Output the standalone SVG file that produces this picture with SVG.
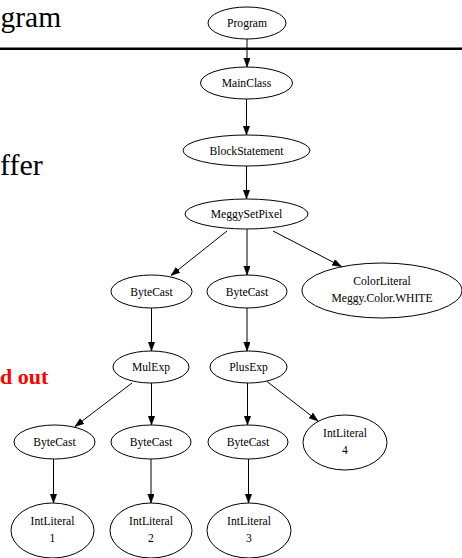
<svg xmlns="http://www.w3.org/2000/svg" width="462" height="558" viewBox="0 0 462 558">
<style>
.n ellipse{fill:none;stroke:#000;stroke-width:1}
.n text{font-family:"Liberation Serif",serif;font-size:11.6px;text-anchor:middle;fill:#000}
.e line{stroke:#000;stroke-width:1;marker-end:url(#ah)}
.slide{font-family:"Liberation Serif",serif;fill:#000}
</style>
<defs>
<marker id="ah" markerUnits="userSpaceOnUse" markerWidth="10" markerHeight="8" refX="9" refY="3.25" orient="auto">
<path d="M0,0 L9,3.25 L0,6.5 z" fill="#000" stroke="#000" stroke-width="0.5"/>
</marker>
</defs>
<rect width="462" height="558" fill="#fff"/>
<g id="slide">
<text class="slide" x="0.5" y="27" font-size="29.5">gram</text>
<line x1="0" y1="48.8" x2="462" y2="48.8" stroke="#000" stroke-width="2.4"/>
<text class="slide" x="0" y="175" font-size="30">ffer</text>
<text x="0" y="383.5" font-family="Liberation Serif,serif" font-size="22" font-weight="bold" fill="#ff0000">d out</text>
</g>
<g id="edges" class="e">
<line x1="247" y1="39" x2="247" y2="67"/>
<line x1="246.5" y1="99" x2="246.5" y2="135"/>
<line x1="246.5" y1="166" x2="246.5" y2="199"/>
<line x1="227" y1="231" x2="171" y2="275.5"/>
<line x1="247" y1="229" x2="247" y2="275"/>
<line x1="273" y1="231" x2="341.5" y2="266.5"/>
<line x1="151.5" y1="308" x2="151.5" y2="351"/>
<line x1="247" y1="308" x2="247" y2="351"/>
<line x1="132" y1="383" x2="75" y2="426.5"/>
<line x1="151.5" y1="383" x2="151.5" y2="425"/>
<line x1="247.5" y1="383" x2="247.5" y2="425"/>
<line x1="267" y1="381.5" x2="318" y2="421"/>
<line x1="53.5" y1="459" x2="53.5" y2="503"/>
<line x1="151" y1="459" x2="151" y2="503"/>
<line x1="248.5" y1="459" x2="248.5" y2="503"/>
</g>
<g id="program" class="n"><ellipse cx="247" cy="23" rx="39" ry="16"/><text x="247" y="27">Program</text></g>
<g id="mainclass" class="n"><ellipse cx="246.5" cy="83" rx="46" ry="16"/><text x="246.5" y="87">MainClass</text></g>
<g id="blockstatement" class="n"><ellipse cx="246.5" cy="150.5" rx="63.5" ry="15.5"/><text x="246.5" y="154.5">BlockStatement</text></g>
<g id="meggysetpixel" class="n"><ellipse cx="246.5" cy="214" rx="61.5" ry="15"/><text x="246.5" y="218">MeggySetPixel</text></g>
<g id="bytecast1" class="n"><ellipse cx="151.5" cy="291.5" rx="40.5" ry="16.5"/><text x="151.5" y="295.5">ByteCast</text></g>
<g id="bytecast2" class="n"><ellipse cx="247" cy="291.5" rx="40" ry="16.5"/><text x="247" y="295.5">ByteCast</text></g>
<g id="colorliteral" class="n"><ellipse cx="382" cy="290.5" rx="80" ry="27.5"/><text x="382" y="285">ColorLiteral</text><text x="382" y="301.5">Meggy.Color.WHITE</text></g>
<g id="mulexp" class="n"><ellipse cx="151" cy="367" rx="38" ry="16"/><text x="151" y="371">MulExp</text></g>
<g id="plusexp" class="n"><ellipse cx="248.5" cy="367" rx="38.5" ry="16"/><text x="248.5" y="371">PlusExp</text></g>
<g id="bytecast3" class="n"><ellipse cx="54.5" cy="442" rx="40.5" ry="17"/><text x="54.5" y="446">ByteCast</text></g>
<g id="bytecast4" class="n"><ellipse cx="151" cy="442" rx="40" ry="17"/><text x="151" y="446">ByteCast</text></g>
<g id="bytecast5" class="n"><ellipse cx="248" cy="442" rx="40" ry="17"/><text x="248" y="446">ByteCast</text></g>
<g id="intliteral4" class="n"><ellipse cx="345" cy="442.5" rx="42" ry="27.5"/><text x="345" y="436.5">IntLiteral</text><text x="345" y="453.5">4</text></g>
<g id="intliteral1" class="n"><ellipse cx="52.5" cy="530.5" rx="41.5" ry="27.5"/><text x="52.5" y="525">IntLiteral</text><text x="52.5" y="541.5">1</text></g>
<g id="intliteral2" class="n"><ellipse cx="151" cy="530.5" rx="41" ry="27.5"/><text x="151" y="525">IntLiteral</text><text x="151" y="541.5">2</text></g>
<g id="intliteral3" class="n"><ellipse cx="249" cy="530.5" rx="42" ry="27.5"/><text x="249" y="525">IntLiteral</text><text x="249" y="541.5">3</text></g>
</svg>
